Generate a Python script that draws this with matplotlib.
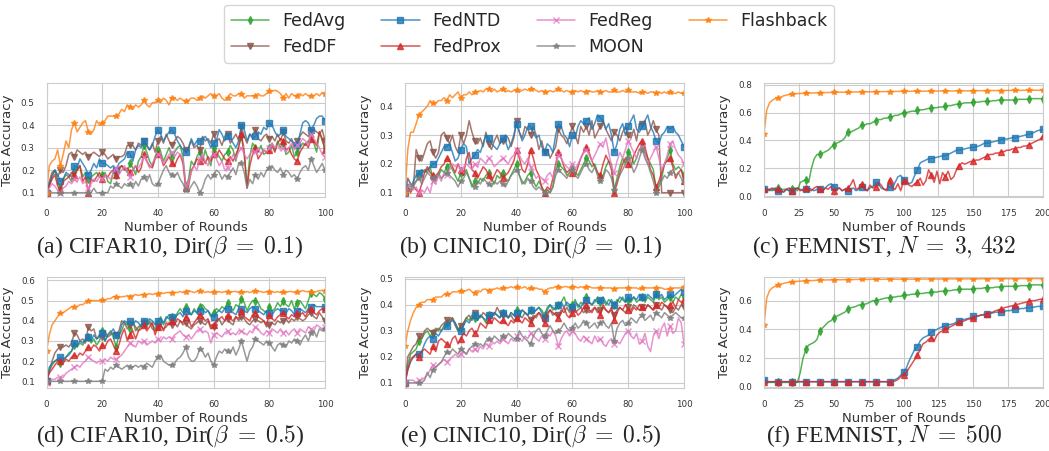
import matplotlib
matplotlib.use("Agg")
import matplotlib.pyplot as plt
import seaborn as sns

sns.set_style("whitegrid")
plt.rcParams['font.family'] = ['DejaVu Sans']
plt.rcParams['mathtext.fontset'] = 'cm'

METHODS = ["FedAvg", "FedDF", "FedNTD", "FedProx", "FedReg", "MOON", "Flashback"]
COLORS = {"FedAvg": "tab:green", "FedDF": "tab:brown", "FedNTD": "tab:blue",
          "FedProx": "tab:red", "FedReg": "tab:pink", "MOON": "tab:gray",
          "Flashback": "tab:orange"}
MARKERS = {"FedAvg": "d", "FedDF": "v", "FedNTD": "s", "FedProx": "^",
           "FedReg": "x", "MOON": "*", "Flashback": "*"}

ROUNDS_100 = list(range(0, 101))
ROUNDS_200 = list(range(0, 201, 2))

# ---------------- (a) CIFAR10, beta=0.1  (accuracy in %) ----------------
A_AVG = [10,13,18,20,15,12,16,18,17,15, 19,20,22,17,19,16,17,18,19,17,
         18,19,15,14,19,18,20,22,21,19, 23,21,18,24,26,31,28,24,22,26,
         29,28,24,27,30,26,28,30,31,26, 13,16,24,22,26,28,24,29,25,22,
         30,28,26,24,27,28,31,29,24,31, 35,27,13,26,32,30,28,31,27,28,
         30,32,29,33,30,32,27,28,31,26, 28,30,32,31,33,35,32,28,37,33, 30]
A_DF = [10,15,19,20,17,20,19,22,27,28, 26,29,28,27,28,26,27,28,27,26,
        28,27,25,26,27,25,26,26,27,31, 31,31,29,32,31,33,31,29,32,28,
        33,35,32,36,33,31,33,35,34,32, 29,30,33,30,31,29,35,33,34,32,
        36,33,34,31,35,36,32,34,36,33, 39,35,32,36,35,38,34,33,35,36,
        34,35,33,36,33,37,33,32,34,30, 33,35,37,36,35,37,38,37,36,38, 33]
A_NTD = [10,14,17,20,18,15,16,19,18,17, 22,21,25,23,21,18,20,23,21,25,
         23,23,22,21,22,20,23,24,25,28, 27,24,29,31,30,33,31,29,31,35,
         38,36,33,35,37,38,36,33,31,29, 28,30,34,31,33,33,34,35,33,30,
         32,33,38,36,33,35,34,32,30,33, 40,38,33,36,34,35,37,36,39,38,
         41,40,37,35,36,38,35,34,33,32, 31,36,41,42,41,38,40,43,44,44, 42]
A_PROX = [10,13,16,18,13,11,15,16,17,19, 18,20,22,15,17,10,16,15,17,19,
          16,18,17,19,20,18,21,22,20,21, 19,20,22,19,21,27,24,22,21,25,
          27,26,22,24,26,23,22,25,27,23, 12,13,20,22,25,24,26,23,26,24,
          27,26,29,27,25,24,26,24,27,30, 36,28,12,22,27,30,25,27,29,28,
          29,31,28,32,34,33,29,30,27,25, 24,28,30,32,30,34,33,31,37,34, 29]
A_REG = [10,12,14,13,11,10,12,13,15,14, 16,15,17,14,15,12,14,16,15,17,
         16,18,17,16,19,21,18,20,22,19, 17,20,22,21,23,26,24,21,23,25,
         27,26,23,25,27,28,26,28,27,25, 13,15,19,22,20,25,27,24,22,26,
         27,25,22,24,20,21,24,27,25,28, 30,27,25,27,29,28,30,27,29,28,
         30,32,30,31,29,30,28,30,32,29, 31,32,34,33,31,36,34,32,30,27, 26]
A_MOON = [10,11,10,10,10,10,10,10,10,10, 10,10,10,10,10,10,10,12,10,10,
          10,10,10,13,12,14,13,12,14,13, 14,12,15,13,16,17,15,18,14,13,
          14,17,20,22,19,18,17,19,16,14, 11,11,13,15,13,10,12,16,18,16,
          18,20,19,16,18,17,19,21,18,23, 23,19,12,16,14,18,16,19,17,20,
          21,22,20,19,21,18,20,19,17,18, 16,19,21,22,20,25,22,19,21,23, 20]
A_FLASH = [10,22,24,25,29,22,27,33,30,38, 41,37,39,41,42,37,36,38,42,40,
           41,42,44,44,44,44,45,47,46,49, 48,47,49,48,49,51,49,48,50,50,
           51,50,52,51,49,52,52,51,52,51, 50.5,51,52,52,51,52,53,52,53,54,
           53,53,54,52,51,52,54,53,53,54, 54,52,53,53,53,53,54,53,53,54,
           55,55,55.5,55,54,52,54,52,54,53, 53,54,53,54,53,53,53,54,53,54.5, 54]

# ---------------- (b) CINIC10, beta=0.1 ----------------
B_AVG = [10,12,11,13,14,16,17,18,17,19, 15,14,16,18,17,19,20,18,16,14,
         17,16,18,15,12,14,13,15,14,16, 17,15,13,16,15,17,15,14,16,18,
         20,16,13,14,16,17,14,12,14,12, 10,11,10,12,18,20,19,18,16,17,
         19,17,16,18,20,22,21,19,20,17, 15,16,19,21,20,11,15,19,22,20,
         24,23,20,22,25,26,24,22,20,18, 11,13,15,20,22,25,20,18,19,18, 16]
B_DF = [10,15,13,12,25,22,21,24,27,28, 24,22,24,30,31,29,27,30,26,24,
        30,27,30,35,31,28,27,29,26,31, 27,25,28,30,27,28,30,29,26,29,
        35,31,29,33,32,30,33,30,25,28, 24,25,22,24,26,32,30,29,27,30,
        33,30,27,33,31,33,30,35,29,31, 33,35,32,30,28,31,30,28,31,33,
        30,29,32,28,34,34,35,30,32,35, 32,30,10,10,10,10,10,10,10,10, 10]
B_NTD = [10,13,12,14,16,17,18,17,18,19, 20,20,22,24,26,26,27,24,21,22,
         25,27,26,20,22,23,25,24,27,30, 29,27,26,25,27,29,28,25,27,30,
         34,31,28,30,33,33,31,29,30,26, 24,27,26,24,30,34,33,30,29,26,
         30,29,33,35,34,35,36,32,34,37, 36,35,32,34,30,24,27,32,34,30,
         33,35,37,32,31,33,35,37,33,31, 28,27,30,31,33,32,33,31,30,28, 26]
B_PROX = [10,12,10,12,11,10,13,17,19,17, 16,15,17,19,20,22,21,19,17,20,
          18,16,22,24,18,17,15,17,19,18, 16,14,16,18,17,15,16,17,19,21,
          25,22,18,17,20,25,22,18,16,12, 10,12,11,15,20,24,22,19,17,18,
          17,16,19,22,24,26,24,21,19,17, 16,20,23,21,18,10,13,17,20,22,
          20,19,23,25,27,28,26,22,18,16, 12,14,17,20,21,22,19,15,17,18, 14]
B_REG = [10,12,13,11,12,10,11,10,12,10, 14,13,16,14,17,16,18,20,19,20,
         18,19,20,19,18,20,19,22,21,20, 22,21,19,20,21,22,21,20,22,23,
         25,23,21,20,22,19,17,15,16,15, 14,16,17,15,19,23,22,20,19,18,
         20,18,20,22,24,25,23,21,23,25, 27,26,29,24,19,17,21,24,22,25,
         28,26,24,22,25,26,23,20,22,24, 26,22,18,20,23,27,28,25,23,22, 20]
B_MOON = [10,15,13,12,14,15,13,15,17,16, 15,16,17,15,16,17,16,15,14,12,
          14,15,17,15,13,12,14,13,15,14, 13,12,14,13,14,13,12,14,16,17,
          18,16,14,13,15,14,12,11,12,11, 10,11,10,12,16,18,17,16,15,17,
          18,16,15,17,19,20,18,17,19,16, 14,15,18,17,15,11,14,16,18,20,
          22,20,17,19,22,25,22,20,17,14, 10,12,14,16,15,17,18,16,17,15, 14]
B_FLASH = [10,25,31,31,34,37,38,39,40,42, 41,41,42,42,43,42,44,43,44,45,
           43,44,44,45,44,45,45,45.5,45,46, 46,45,46,45,45.5,46,45,45.5,45,45.5,
           45.5,45,45.5,46,45.5,46,46,45.5,45,45.5, 45,45,45.5,45,45.5,46,45.5,45,45.5,45,
           45,45.5,45,45.5,45,45,45.5,45,45,45.5, 45,45,45.5,45,45,45.5,45,45,45.5,45,
           45.5,45,45,45,44.5,45,45,44.5,45,45, 44.5,45,44.5,45,44.5,45,44.5,44.5,45,44.5, 44.5]

# ---------------- (c) FEMNIST, N=3,432 (every 2 rounds) ----------------
C_AVG = [5,5,5,4,5,6,4,5,5,4, 5,6,4,10,11,12,10,20,27,30,
         30,31,32,33,35,37,38,39,40,42, 46,46,47,48,49,51,51,52,52,53,
         54,55,55,56,56,57,57,58,58,59, 60,60,60.5,61,61,61.5,62,62,62.5,63,
         63,63.5,63.5,64,64,64.5,65,65,65.5,66, 66,66.5,67,67,67,67.5,67.5,67.5,68,68,
         68,68,68.5,68.5,69,69,69,69,69,69, 69,69.5,69.5,69.5,69.5,70,70,70,70,70, 70]
C_NTD = [5,5,4,5,6,4,5,3,5,4, 4,5,6,5,4,5,6,5,4,5,
         5,4,6,8,9,7,5,6,4,5, 4,5,6,4,5,7,6,4,6,7,
         10,9,6,5,5,7,6,10,14,15, 12,10,9,10,15,19,24,25,26,27,
         27,27.5,28,28.5,29,29,30,31,32,33, 33,33.5,34,34.5,35,35,35.5,36,37,38,
         38,38.5,39,39.5,40,40.5,41,41,41.5,42, 42,42.5,43,43.5,44,44.5,45,46,47,47.5, 48]
C_PROX = [5,4,5,6,4,5,4,3,5,6, 4,5,6,4,5,6,5,4,6,7,
          5,4,6,5,7,4,5,6,4,5, 6,8,12,5,6,9,5,4,8,6,
          7,10,8,5,4,12,6,5,9,4, 11,12,8,7,9,10,13,8,11,19,
          15,10,18,9,17,14,18,12,14,19, 22,24,23,24,25,25,26,26,27,28,
          29,30,30,31,31,32,32,33,33,34, 34,35,35,36,36,37,38,39,40,41, 43]
C_FLASH = [45,62,67,69,70,70.5,71,72,72.5,73, 73.3,73.5,73.6,73.7,73.8,73.9,74,74,74.1,74.1,
           74.2,74.3,74.3,74.4,74.4,74.5,74.5,74.6,74.6,74.6, 74.7,74.7,74.7,74.8,74.8,74.8,74.9,74.9,74.9,75,
           75,75,75,75,75.1,75.1,75.1,75.1,75.2,75.2, 75.2,75.2,75.2,75.3,75.3,75.3,75.3,75.3,75.4,75.4,
           75.4,75.4,75.4,75.5,75.5,75.5,75.5,75.5,75.5,75.6, 75.6,75.6,75.6,75.6,75.6,75.7,75.7,75.7,75.7,75.7,
           75.7,75.8,75.8,75.8,75.8,75.8,75.8,75.9,75.9,75.9, 75.9,75.9,75.9,76,76,76,76,76,76,76, 76]

# ---------------- (d) CIFAR10, beta=0.5 ----------------
D_AVG = [10,15,18,20,21,19,20,22,24,25, 28,27,29,28,30,32,29,31,28,30,
         35,30,33,35,32,27,33,35,39,38, 36,39,37,35,38,39,37,40,38,36,
         39,42,38,41,43,42,40,44,46,44, 47,45,43,46,44,47,48,46,45,42,
         44,46,45,47,46,49,47,45,48,47, 51,49,45,48,50,50,49,46,45,44,
         47,45,46,49,47,50,48,47,50,46, 49,50,48,46,50,54,53,52,54,53, 51]
D_DF = [10,15,20,24,26,27,27,28,27,29, 34,33,30,31,29,37,35,36,31,33,
        32,35,32,33,34,33,35,40,39,36, 38,40,35,37,38,39,38,39,36,35,
        37,38,36,37,39,38,39,37,40,38, 39,37,36,38,39,40,39,38,40,36,
        37,39,41,38,40,41,39,38,42,40, 42,41,39,38,40,41,40,39,40,37,
        38,39,38,40,39,40,41,39,41,40, 42,41,40,41,43,44,42,41,44,42, 40]
D_NTD = [10,17,19,20,21,22,21,22,23,25, 29,28,30,29,31,32,30,33,31,32,
         34,30,33,34,36,33,32,38,40,39, 40,38,40,39,37,40,39,41,40,38,
         40,41,39,42,41,42,41,43,44,42, 45,44,43,45,44,45,46,44,45,43,
         42,44,45,44,46,46,45,44,43,46, 46,45,44,46,47,46,45,44,43,45,
         44,43,45,46,45,45,44,46,45,43, 45,46,45,44,46,47,48,47,47,47, 47]
D_PROX = [10,14,16,18,20,20,19,21,20,22, 23,22,24,23,25,27,26,28,27,25,
          28,27,30,31,28,25,28,33,36,30, 33,35,31,35,36,38,35,37,39,33,
          37,38,35,39,38,40,38,41,40,39, 42,41,37,39,41,43,42,40,41,37,
          38,40,41,42,40,43,41,40,42,41, 45,42,41,40,43,44,42,41,40,38,
          43,41,40,42,43,44,42,41,43,42, 44,43,44,42,45,46,44,43,45,46, 46]
D_REG = [9,10,11,11,12,12,12,14,15,16, 17,18,17,19,20,22,21,20,19,20,
         20,21,20,22,21,21,22,23,25,27, 29,28,27,30,29,30,28,29,30,29,
         31,30,32,31,32,31,33,34,35,33, 32,33,31,33,35,36,34,35,34,29,
         33,34,33,32,34,35,33,34,33,35, 35,34,33,35,34,37,36,34,33,35,
         34,36,35,34,36,34,35,33,35,36, 34,36,35,34,37,36,35,38,37,36, 37]
D_MOON = [10,10,10,10,10,10,10,10,10,10, 10,10,10,10,10,10,10,10,10,10,
          10,16,15,17,16,18,17,16,17,18, 17,17,18,17,18,17,19,18,17,20,
          22,23,20,19,18,18,19,21,22,24, 27,22,20,20,22,26,25,22,24,20,
          18,22,25,24,26,25,24,27,23,26, 30,25,20,25,27,31,30,29,28,30,
          29,27,25,28,29,28,27,30,29,31, 30,28,31,33,30,34,35,32,36,35, 36]
D_FLASH = [25,33,38,40,42,44,44,45,46,47, 47,47,48,48,49,50,50,50,50,50,
           50.5,50,51,51,52,52,51.5,52,52,52.5, 52,52.5,53,52.5,53,53,53,53.5,53,53.5,
           53.5,54,53.5,54,54,54,54,54,54.5,54, 54.5,55,54.5,54,54.5,55,54.5,54,54.5,54,
           54.5,54,54.5,54,54.5,54.5,54,54.5,54.5,54, 54.5,54,54.5,54,54.5,55,54.5,54.5,54,54.5,
           54.5,54.5,54,54.5,54,54.5,54,54.5,54.5,54, 54.5,54.5,55,54.5,54.5,54.5,54,54.5,55,55, 55]

# ---------------- (e) CINIC10, beta=0.5 ----------------
E_AVG = [10,17,21,22,23,26,27,29,30,28, 29,30,31,30,32,33,34,35,33,30,
         31,33,35,34,36,35,34,36,35,33, 36,35,37,36,35,37,36,35,37,36,
         38,36,38,37,36,38,37,38,39,38, 36,39,40,38,39,40,41,43,40,39,
         40,42,39,41,40,43,41,40,41,43, 41,42,40,42,41,40,42,41,43,41,
         42,41,43,41,42,43,41,43,42,41, 44,42,43,41,42,43,41,43,42,44, 43]
E_DF = [10,20,22,24,25,28,27,30,31,30, 29,31,30,32,33,34,33,35,32,30,
        32,33,35,36,34,37,36,35,37,36, 35,37,36,39,37,36,37,35,36,34,
        35,36,35,37,36,34,36,35,37,36, 35,37,38,36,37,36,38,37,39,37,
        38,37,38,39,37,38,37,38,39,37, 38,39,38,37,38,36,38,39,38,37,
        39,38,40,39,38,39,38,40,39,38, 40,39,38,40,39,38,37,39,38,40, 39]
E_NTD = [10,15,18,20,21,21,22,25,27,28, 27,29,28,30,31,32,33,34,33,31,
         30,32,34,33,35,36,34,36,35,34, 36,35,37,36,35,37,36,35,37,36,
         37,36,38,37,36,38,37,38,39,37, 35,38,40,39,38,40,41,39,41,40,
         39,41,40,39,41,42,41,40,42,41, 42,43,41,40,42,40,41,43,42,41,
         43,42,43,42,44,43,42,44,43,42, 44,43,44,42,43,44,43,44,45,46, 45]
E_PROX = [10,15,19,20,21,20,22,23,22,21, 24,22,26,27,26,25,24,27,28,25,
          27,29,28,30,31,29,30,33,32,31, 34,33,35,34,33,34,33,32,34,33,
          35,34,33,35,34,33,35,36,37,35, 33,36,38,37,36,35,37,39,36,35,
          37,38,36,37,39,40,38,37,39,38, 36,40,38,37,39,34,37,39,38,40,
          38,37,39,38,40,39,38,40,39,38, 40,39,41,40,39,40,41,39,42,41, 42]
E_REG = [10,11,11,11,10,11,11,12,13,15, 17,16,17,18,19,18,19,20,21,20,
         21,22,21,23,22,23,22,24,23,25, 24,26,25,26,25,27,26,25,27,26,
         28,27,26,28,27,29,28,27,26,28, 27,29,28,30,28,24,27,29,30,28,
         30,29,27,26,28,27,26,25,28,26, 27,25,24,26,27,25,26,25,27,29,
         30,28,27,29,25,26,29,24,22,28, 30,27,31,33,28,32,29,30,35,33, 25]
E_MOON = [10,10,10,10,10,10,10,11,14,12, 15,16,17,18,20,22,21,23,22,21,
          23,22,21,23,24,25,24,25,24,26, 27,26,28,27,26,28,27,29,28,27,
          27,30,28,27,26,25,28,30,31,29, 28,30,32,30,29,30,31,33,31,30,
          31,33,31,32,34,33,31,32,33,31, 33,34,32,31,33,26,31,33,34,32,
          33,35,34,33,35,36,34,35,36,34, 37,36,35,37,36,35,36,37,36,35, 35]
E_FLASH = [24,30,34,37,39,40,41,41,42,42, 42,43,43,43,44,44,44,45,45,45,
           45.5,45,45.5,46,45,44.5,45.5,45,46,46, 45.5,46,46,46.5,46,46.5,46.5,46.5,47,46.5,
           47,46.5,46.5,47,46,46.5,46,46.5,46,46, 45,46,46.5,46.5,47,47,46.5,47,47,46.5,
           47,47,46.5,47,46.5,47,47,46.5,46.5,46.5, 46.5,46.5,46.5,46.5,46.5,46,46.5,46.5,46.5,46.5,
           46.5,46.5,46.5,46.5,46,46.5,46.5,46.5,46.5,46.5, 46.5,46.5,46.5,46,46,46,46.5,46.5,46.5,46.5, 47]

# ---------------- (f) FEMNIST, N=500 (every 2 rounds) ----------------
F_AVG = [4,3,3,3,3,3,3,3,3,3, 3,3,3,10,20,26,29,30,31,33,
         39,41,43,45,46,48,49,50,51,52, 54,55,55.5,56,57,57,57.5,58,59,60,
         60,60.5,61,61.5,62,62,62.5,62.5,63,63, 64,64,64,64.5,64.5,65,65,65,65.5,65.5,
         66,66,66,66.5,66.5,67,67,67,67.5,67.5, 68,68,68,68,68,68,68.5,68.5,68.5,69,
         69,69,69,69.5,69.5,69.5,70,70,70,70, 70,70,70.5,70.5,70.5,70.5,71,71,71,71, 71]
F_NTD = [5,3.5,3.5,3.5,3.5,3.5,3.5,3.5,3.5,3.5, 3.5,3.5,3.5,3.5,3.5,3.5,3.5,3.5,3.5,3.5,
         3.5,3.5,3.5,3.5,3.5,3.5,3.5,3.5,3.5,3.5, 3.5,3.5,3.5,3.5,3.5,3.5,3.5,3.5,3.5,3.5,
         3.5,3.5,3.5,3.5,3.5,3.5,4,5,6,8, 10,13,18,22,26,28,32,34,35,36,
         38,39,40,41,42,42.5,43,43.5,44,45, 46,46.5,47,47.5,48,49,49,49.5,50,50,
         51,51,51.5,52,52,52,52.5,53,53,53.5, 54,54,54.5,54.5,55,55,55.5,55.5,56,56, 56]
F_PROX = [3.5,3.5,3.5,3.5,3.5,3.5,3.5,3.5,3.5,3.5, 3.5,3.5,3.5,3.5,3.5,3.5,3.5,3.5,3.5,3.5,
          3.5,3.5,3.5,3.5,3.5,3.5,3.5,3.5,3.5,3.5, 3.5,3.5,3.5,3.5,3.5,3.5,3.5,3.5,3.5,3.5,
          3.5,3.5,3.5,3.5,3.5,3.5,3.5,4,5,7, 8,10,13,16,19,22,26,30,31,33,
          34,32,36,38,39,40,41,42,43,44, 45,45.5,46,47,47.5,48,49,49.5,50,50.5,
          51,51.5,52,53,53.5,54,55,55.5,56,56.5, 57,57.5,58,58.5,59,59.5,60,60,60.5,61, 61]
F_FLASH = [43,62,67,69,70,71,71.5,72,72.5,73, 73,73.2,73.5,73.6,73.7,73.8,74,74,74.1,74.2,
           74.3,74.4,74.4,74.5,74.5,74.5,74.6,74.6,74.6,74.7, 74.7,74.7,74.7,74.8,74.8,74.8,74.8,74.8,74.9,74.9,
           74.9,74.9,74.9,74.9,75,75,75,75,75,75, 75,75,75,75,75,75,75.1,75.1,75.1,75.1,
           75.1,75.1,75.1,75.1,75.1,75.2,75.2,75.2,75.2,75.2, 75.2,75.2,75.2,75.2,75.2,75.2,75.2,75.2,75.3,75.3,
           75.3,75.3,75.3,75.3,75.3,75.3,75.3,75.3,75.3,75.3, 75.3,75.3,75.4,75.4,75.4,75.4,75.4,75.4,75.4,75.4, 75.4]

CAPTIONS = [r"(a) CIFAR10, Dir($\beta\;=\;0.1$)", r"(b) CINIC10, Dir($\beta\;=\;0.1$)",
            r"(c) FEMNIST, $N\;=\;3,\,432$", r"(d) CIFAR10, Dir($\beta\;=\;0.5$)",
            r"(e) CINIC10, Dir($\beta\;=\;0.5$)", r"(f) FEMNIST, $N\;=\;500$"]

PANELS = [
    (ROUNDS_100, {"FedAvg": A_AVG, "FedDF": A_DF, "FedNTD": A_NTD, "FedProx": A_PROX,
                  "FedReg": A_REG, "MOON": A_MOON, "Flashback": A_FLASH}),
    (ROUNDS_100, {"FedAvg": B_AVG, "FedDF": B_DF, "FedNTD": B_NTD, "FedProx": B_PROX,
                  "FedReg": B_REG, "MOON": B_MOON, "Flashback": B_FLASH}),
    (ROUNDS_200, {"FedAvg": C_AVG, "FedNTD": C_NTD, "FedProx": C_PROX, "Flashback": C_FLASH}),
    (ROUNDS_100, {"FedAvg": D_AVG, "FedDF": D_DF, "FedNTD": D_NTD, "FedProx": D_PROX,
                  "FedReg": D_REG, "MOON": D_MOON, "Flashback": D_FLASH}),
    (ROUNDS_100, {"FedAvg": E_AVG, "FedDF": E_DF, "FedNTD": E_NTD, "FedProx": E_PROX,
                  "FedReg": E_REG, "MOON": E_MOON, "Flashback": E_FLASH}),
    (ROUNDS_200, {"FedAvg": F_AVG, "FedNTD": F_NTD, "FedProx": F_PROX, "Flashback": F_FLASH}),
]

YLIMS = [(0.081, 0.587), (0.085, 0.481), (-0.005, 0.812),
         (0.067, 0.617), (0.08, 0.507), (-0.009, 0.765)]
YTICKS = [[0.1, 0.2, 0.3, 0.4, 0.5], [0.1, 0.2, 0.3, 0.4], [0.0, 0.2, 0.4, 0.6, 0.8],
          [0.1, 0.2, 0.3, 0.4, 0.5, 0.6], [0.1, 0.2, 0.3, 0.4, 0.5], [0.0, 0.2, 0.4, 0.6]]

W, H = 1049, 451
fig = plt.figure(figsize=(W / 100, H / 100), dpi=100)

# axes boxes in pixels: (left, top, right, bottom)
COL_X = [(46.5, 325), (405, 684), (764, 1043)]
ROW_Y = [(83, 197), (277, 388)]
CAP_X = [170, 531, 884]
CAP_Y = [247, 436]

handles = {}
for i, (rounds, series) in enumerate(PANELS):
    r, c = divmod(i, 3)
    l, rgt = COL_X[c]
    t, b = ROW_Y[r]
    ax = fig.add_axes([l / W, 1 - b / H, (rgt - l) / W, (b - t) / H])
    for m in METHODS:
        if m not in series:
            continue
        vals = series[m]
        assert len(vals) == len(rounds), (i, m, len(vals))
        ln, = ax.plot(rounds, [v / 100 for v in vals], color=COLORS[m],
                      marker=MARKERS[m], markevery=5, markersize=4.2,
                      linewidth=1.1, alpha=0.8, label=m)
        handles[m] = ln
    ax.set_xlim(0, rounds[-1])
    ax.set_ylim(*YLIMS[i])
    ax.set_yticks(YTICKS[i])
    if rounds[-1] == 200:
        ax.set_xticks([0, 25, 50, 75, 100, 125, 150, 175, 200])
    else:
        ax.set_xticks([0, 20, 40, 60, 80, 100])
    ax.tick_params(labelsize=6.3, pad=5, colors='0.2')
    ax.set_xlabel("Number of Rounds", fontsize=9.5, labelpad=2, color='0.2')
    ax.set_ylabel("Test Accuracy", fontsize=9.5, labelpad=5, color='0.2')
    fig.text(CAP_X[c] / W, 1 - CAP_Y[r] / H, CAPTIONS[i], ha='center', va='center',
             fontsize=17, family='Liberation Serif')

fig.legend([handles[m] for m in METHODS], METHODS, loc='upper center',
           bbox_to_anchor=(529 / W, 1 - 5 / H), borderaxespad=0, ncol=4,
           fontsize=12.5, frameon=True, fancybox=True, edgecolor='0.8',
           handlelength=2.2, columnspacing=2.07, handletextpad=0.75,
           borderpad=0.4, labelspacing=0.45)

fig.savefig("out.png", dpi=100)
